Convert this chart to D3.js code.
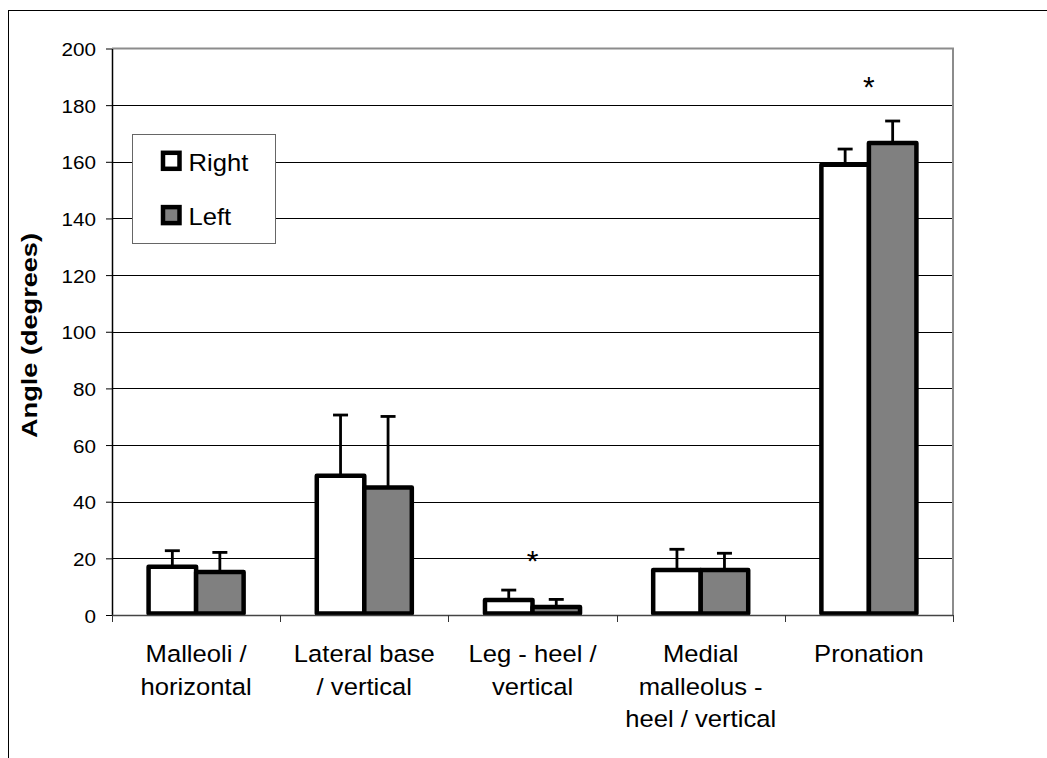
<!DOCTYPE html>
<html>
<head>
<meta charset="utf-8">
<script src="https://cdn.jsdelivr.net/npm/d3@7"></script>
<style>
  html, body { margin: 0; padding: 0; background: #fff; }
  svg { display: block; font-family: "Liberation Sans", Arial, sans-serif; }
</style>
</head>
<body>
<svg id="chart" width="1047" height="758"></svg>
<script>
// ---- data ----
const categories = [
  ["Malleoli /", "horizontal"],
  ["Lateral base", "/ vertical"],
  ["Leg - heel /", "vertical"],
  ["Medial", "malleolus -", "heel / vertical"],
  ["Pronation"]
];
const seriesNames = ["Right", "Left"];
const rightValues = [17, 49.2, 5.3, 15.9, 159];
const leftValues  = [15.2, 45, 2.8, 15.9, 166.6];
const rightErrors = [5.7, 21.4, 3.5, 7.3, 5.5];
const leftErrors  = [6.9, 25.1, 2.7, 5.9, 7.8];
const yTicks = [0, 20, 40, 60, 80, 100, 120, 140, 160, 180, 200];
const significance = [ {cat: 2, level: 20.8}, {cat: 4, level: 188} ];
const yTitle = "Angle (degrees)";

// ---- layout ----
const svg = d3.select("#chart");
const pL = 112, pR = 953, pT = 48.5, pB = 615;
const SX = 1.09; // horizontal text stretch seen in the reference
const fills = ["#ffffff", "#808080"];

// outer border
svg.append("rect").attr("x", 8.5).attr("y", 10.5).attr("width", 1100).attr("height", 800)
  .attr("fill", "none").attr("stroke", "#000").attr("stroke-width", 1);

const idx = categories.map((d, i) => i);
const x = d3.scaleBand().domain(idx).range([pL, pR]).padding(0);
const y = d3.scaleLinear().domain([0, 200]).range([pB, pT]);
const groupW = x.bandwidth() * 0.565;
const xs = d3.scaleBand().domain([0, 1]).range([0, groupW]).padding(0);

// gridlines
svg.append("g").selectAll("line").data(yTicks.filter(t => t > 0 && t < 200)).join("line")
  .attr("x1", pL).attr("x2", pR)
  .attr("y1", d => Math.round(y(d)) + 0.5).attr("y2", d => Math.round(y(d)) + 0.5)
  .attr("stroke", "#000").attr("stroke-width", 1);

// plot border (top & right) gray
svg.append("path")
  .attr("d", `M${pL},${y(200)}H${pR}V${pB}`)
  .attr("fill", "none").attr("stroke", "#8c8c8c").attr("stroke-width", 2);

// y axis
const yAxis = d3.axisLeft(y).tickValues(yTicks).tickSize(6).tickSizeOuter(0).tickFormat(d3.format("d"));
const yg = svg.append("g").attr("transform", `translate(${pL},0)`).call(yAxis);
yg.select(".domain").attr("stroke", "#000").attr("stroke-width", 1.5);
yg.selectAll(".tick line").attr("stroke", "#000");
yg.selectAll(".tick text").remove();
yg.selectAll(".tick").append("text")
  .attr("transform", `translate(-16,7) scale(${SX},1)`)
  .attr("text-anchor", "end").attr("fill", "#000")
  .style("font-size", "19px").style("font-family", "'Liberation Sans', Arial, sans-serif")
  .text(d => d);

// bars
const series = [
  {name: seriesNames[0], values: rightValues, errors: rightErrors},
  {name: seriesNames[1], values: leftValues, errors: leftErrors}
];
series.forEach((s, si) => {
  const g = svg.append("g");
  const bx = i => x(i) + (x.bandwidth() - groupW) / 2 + xs(si);
  g.selectAll("line.err").data(idx).join("line")
    .attr("x1", i => bx(i) + xs.bandwidth() / 2).attr("x2", i => bx(i) + xs.bandwidth() / 2)
    .attr("y1", i => y(s.values[i])).attr("y2", i => y(s.values[i] + s.errors[i]))
    .attr("stroke", "#000").attr("stroke-width", 2.8);
  g.selectAll("line.cap").data(idx).join("line")
    .attr("x1", i => bx(i) + xs.bandwidth() / 2 - 7.5).attr("x2", i => bx(i) + xs.bandwidth() / 2 + 7.5)
    .attr("y1", i => y(s.values[i] + s.errors[i])).attr("y2", i => y(s.values[i] + s.errors[i]))
    .attr("stroke", "#000").attr("stroke-width", 2.8);
  g.selectAll("rect").data(idx).join("rect")
    .attr("x", bx).attr("width", xs.bandwidth())
    .attr("y", i => y(s.values[i])).attr("height", i => y(0) - y(s.values[i]) - 1.5)
    .attr("fill", fills[si]).attr("stroke", "#000").attr("stroke-width", 4.5)
    .attr("stroke-linejoin", "round");
});

// x axis
const xg = svg.append("g").attr("transform", `translate(0,${pB})`);
xg.append("line").attr("x1", pL).attr("x2", pR).attr("y1", 0.5).attr("y2", 0.5)
  .attr("stroke", "#444").attr("stroke-width", 1.5);
const edges = idx.map(i => x(i)).concat([pR]);
xg.selectAll("line.t").data(edges).join("line")
  .attr("x1", d => Math.round(d) + 0.5).attr("x2", d => Math.round(d) + 0.5)
  .attr("y1", 0).attr("y2", 7).attr("stroke", "#333").attr("stroke-width", 1);
idx.forEach(i => {
  const cx = x(i) + x.bandwidth() / 2;
  categories[i].forEach((line, li) => {
    xg.append("text")
      .attr("transform", `translate(${cx},${46.7 + li * 32.8}) scale(${SX},1)`)
      .attr("text-anchor", "middle").attr("fill", "#000")
      .style("font-size", "23.5px")
      .text(line);
  });
});

// significance asterisks
svg.append("g").selectAll("text").data(significance).join("text")
  .attr("x", d => x(d.cat) + x.bandwidth() / 2)
  .attr("y", d => y(d.level) + 15)
  .attr("text-anchor", "middle").style("font-size", "30px").attr("fill", "#000")
  .text("*");

// y title
svg.append("text")
  .attr("transform", "translate(37,335.5) rotate(-90)")
  .attr("text-anchor", "middle").style("font-size", "22.5px").style("font-weight", "bold")
  .attr("textLength", 205).attr("lengthAdjust", "spacingAndGlyphs")
  .text(yTitle);

// legend
const lg = svg.append("g");
lg.append("rect").attr("x", 132.5).attr("y", 134.5).attr("width", 143).attr("height", 109)
  .attr("fill", "#fff").attr("stroke", "#666").attr("stroke-width", 1);
seriesNames.forEach((n, i) => {
  const yy = 152.8 + i * 54.3;
  lg.append("rect").attr("x", 163).attr("y", yy).attr("width", 16.5).attr("height", 16)
    .attr("fill", fills[i]).attr("stroke", "#000").attr("stroke-width", 4.5);
  lg.append("text")
    .attr("transform", `translate(188.5,${yy + 18}) scale(${SX},1)`)
    .style("font-size", "23.5px").attr("fill", "#000").text(n);
});
</script>
</body>
</html>
